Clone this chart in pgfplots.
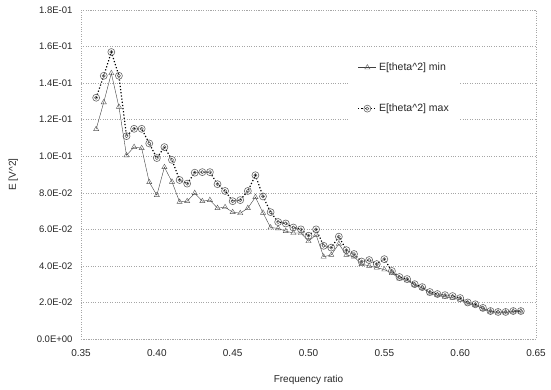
\documentclass[border=0pt]{standalone}
\usepackage{fontspec}
\setmainfont{Liberation Sans}
\usepackage{pgfplots}
\pgfplotsset{compat=1.18}
\usepackage{pgfplotstable}
\pgfdeclareplotmark{odot}{%
  \pgfpathcircle{\pgfpointorigin}{\pgfplotmarksize}\pgfusepathqstroke
  \pgfpathcircle{\pgfpointorigin}{0.45\pgfplotmarksize}\pgfusepathqstroke}
\pgfplotstableread{
x ymin ymax
0.360 0.1148 0.132
0.365 0.1295 0.144
0.370 0.1454 0.157
0.375 0.127 0.144
0.380 0.1005 0.111
0.385 0.105 0.115
0.390 0.1044 0.115
0.395 0.0858 0.107
0.400 0.0787 0.099
0.405 0.094 0.105
0.410 0.086 0.098
0.415 0.075 0.087
0.420 0.0754 0.085
0.425 0.0798 0.091
0.430 0.0754 0.0913
0.435 0.076 0.0913
0.440 0.0716 0.0847
0.445 0.0721 0.081
0.450 0.0694 0.0754
0.455 0.0688 0.076
0.460 0.0716 0.081
0.465 0.0776 0.0896
0.470 0.069 0.078
0.475 0.061 0.0694
0.480 0.0605 0.064
0.485 0.059 0.0632
0.490 0.058 0.061
0.495 0.058 0.060
0.500 0.0535 0.0565
0.505 0.057 0.060
0.510 0.045 0.051
0.515 0.046 0.050
0.520 0.052 0.056
0.525 0.046 0.0486
0.530 0.045 0.0465
0.535 0.041 0.0424
0.540 0.040 0.0432
0.545 0.039 0.041
0.550 0.038 0.0437
0.555 0.036 0.0372
0.560 0.033 0.0339
0.565 0.032 0.0328
0.570 0.0295 0.0300
0.575 0.028 0.0284
0.580 0.025 0.0257
0.585 0.024 0.0246
0.590 0.023 0.0240
0.595 0.0225 0.0235
0.600 0.0215 0.0224
0.605 0.0195 0.0200
0.610 0.0185 0.0190
0.615 0.0165 0.0170
0.620 0.015 0.0153
0.625 0.0145 0.0148
0.630 0.0145 0.0148
0.635 0.015 0.0153
0.640 0.015 0.0153
}\datatable
\begin{document}
\begin{tikzpicture}
\begin{axis}[
  scale only axis,
  width=455pt, height=329pt,
  xmin=0.35, xmax=0.65, ymin=0, ymax=0.18,
  xtick={0.35,0.40,0.45,0.50,0.55,0.60,0.65},
  xticklabels={0.35,0.40,0.45,0.50,0.55,0.60,0.65},
  ytick={0,0.02,0.04,0.06,0.08,0.10,0.12,0.14,0.16,0.18},
  yticklabels={0.0E+00,2.0E-02,4.0E-02,6.0E-02,8.0E-02,1.0E-01,1.2E-01,1.4E-01,1.6E-01,1.8E-01},
  major tick length=0pt,
  xticklabel style={font=\fontsize{10}{12}\selectfont, text=black!85, yshift=-7pt},
  yticklabel style={font=\fontsize{9.5}{11}\selectfont, text=black!85, xshift=-5pt},
  ymajorgrids,
  grid style={gray!70, dotted},
  axis line style={gray!70, dotted},
  xlabel={Frequency ratio},
  ylabel={E [V\textasciicircum 2]},
  label style={font=\fontsize{10}{12}\selectfont, text=black!85},
  xlabel style={at={(axis description cs:0.5,-0.125)}, anchor=center},
  ylabel style={at={(axis description cs:-0.149,0.5)}, anchor=center},
  legend style={at={(axis description cs:0.59,0.87)}, anchor=north west,
    draw=none, fill=white, font=\fontsize{10.5}{12}\selectfont, row sep=28pt,
    inner xsep=8pt, inner ysep=8pt, text=black!85},
  legend cell align=left,
  legend image code/.code={%
    \draw[mark repeat=2,mark phase=2,#1] plot coordinates {(0cm,0cm) (0.32cm,0cm) (0.64cm,0cm)};},
  clip=false,
]
\addplot[black!75, thin, mark=triangle, mark size=3pt, mark options={solid, black!65}] table[x=x, y=ymin] {\datatable};
\addlegendentry{E[theta\textasciicircum 2] min}
\addplot[black, dotted, line width=1.2pt, mark=odot, mark size=3.5pt, mark options={solid, black!60, line width=0.6pt}] table[x=x, y=ymax] {\datatable};
\addlegendentry{E[theta\textasciicircum 2] max}
\end{axis}
\pgfresetboundingbox
\path[use as bounding box] ([xshift=-81pt,yshift=-50pt]current axis.south west) rectangle ([xshift=15pt,yshift=10pt]current axis.north east);
\end{tikzpicture}
\end{document}
